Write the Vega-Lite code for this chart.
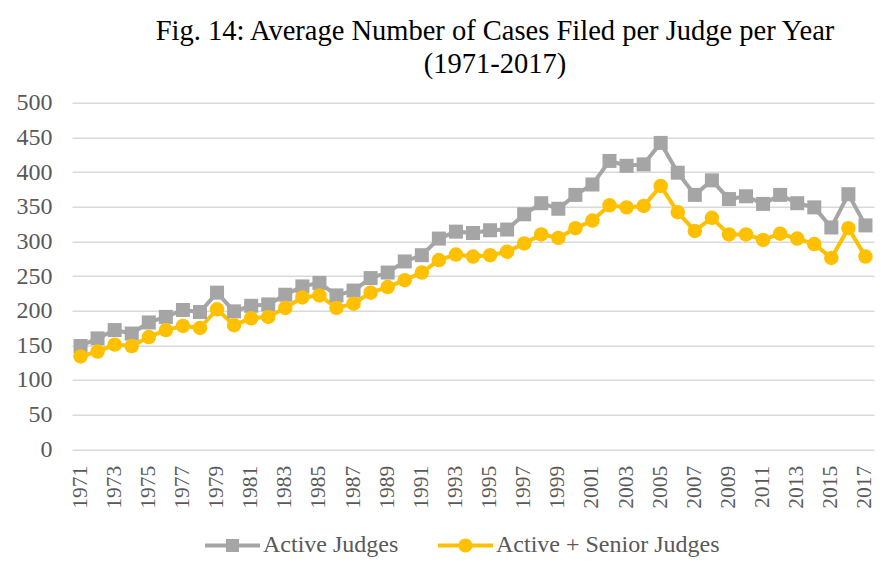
{
  "$schema": "https://vega.github.io/schema/vega-lite/v6.json",
  "autosize": {"type": "none"},
  "width": 802,
  "height": 346.6,
  "padding": {"left": 72, "top": 102.7, "right": 22, "bottom": 130.7},
  "background": "white",
  "config": {
    "view": {"stroke": null},
    "font": "Liberation Serif",
    "legend": {"labelFont": "Liberation Serif", "labelFontSize": 24, "labelColor": "#595959", "labelLimit": 0}
  },
  "title": {
    "text": ["Fig. 14: Average Number of Cases Filed per Judge per Year", "(1971-2017)"],
    "anchor": "middle",
    "frame": "group",
    "dx": 22,
    "font": "Liberation Serif",
    "fontSize": 28.5,
    "fontWeight": "normal",
    "color": "#000000",
    "lineHeight": 33,
    "offset": 12
  },
  "data": {
    "values": [
      {"year": 1971, "series": "Active Judges", "value": 149},
      {"year": 1972, "series": "Active Judges", "value": 160},
      {"year": 1973, "series": "Active Judges", "value": 172},
      {"year": 1974, "series": "Active Judges", "value": 167},
      {"year": 1975, "series": "Active Judges", "value": 183},
      {"year": 1976, "series": "Active Judges", "value": 191},
      {"year": 1977, "series": "Active Judges", "value": 201},
      {"year": 1978, "series": "Active Judges", "value": 198},
      {"year": 1979, "series": "Active Judges", "value": 226},
      {"year": 1980, "series": "Active Judges", "value": 199},
      {"year": 1981, "series": "Active Judges", "value": 207},
      {"year": 1982, "series": "Active Judges", "value": 209},
      {"year": 1983, "series": "Active Judges", "value": 223},
      {"year": 1984, "series": "Active Judges", "value": 235},
      {"year": 1985, "series": "Active Judges", "value": 240},
      {"year": 1986, "series": "Active Judges", "value": 222},
      {"year": 1987, "series": "Active Judges", "value": 229},
      {"year": 1988, "series": "Active Judges", "value": 247},
      {"year": 1989, "series": "Active Judges", "value": 255},
      {"year": 1990, "series": "Active Judges", "value": 271},
      {"year": 1991, "series": "Active Judges", "value": 280},
      {"year": 1992, "series": "Active Judges", "value": 304},
      {"year": 1993, "series": "Active Judges", "value": 314},
      {"year": 1994, "series": "Active Judges", "value": 312},
      {"year": 1995, "series": "Active Judges", "value": 316},
      {"year": 1996, "series": "Active Judges", "value": 317},
      {"year": 1997, "series": "Active Judges", "value": 339},
      {"year": 1998, "series": "Active Judges", "value": 355},
      {"year": 1999, "series": "Active Judges", "value": 347},
      {"year": 2000, "series": "Active Judges", "value": 367},
      {"year": 2001, "series": "Active Judges", "value": 382},
      {"year": 2002, "series": "Active Judges", "value": 416},
      {"year": 2003, "series": "Active Judges", "value": 409},
      {"year": 2004, "series": "Active Judges", "value": 411},
      {"year": 2005, "series": "Active Judges", "value": 442},
      {"year": 2006, "series": "Active Judges", "value": 399},
      {"year": 2007, "series": "Active Judges", "value": 367},
      {"year": 2008, "series": "Active Judges", "value": 388},
      {"year": 2009, "series": "Active Judges", "value": 361},
      {"year": 2010, "series": "Active Judges", "value": 365},
      {"year": 2011, "series": "Active Judges", "value": 354},
      {"year": 2012, "series": "Active Judges", "value": 367},
      {"year": 2013, "series": "Active Judges", "value": 355},
      {"year": 2014, "series": "Active Judges", "value": 349},
      {"year": 2015, "series": "Active Judges", "value": 320},
      {"year": 2016, "series": "Active Judges", "value": 368},
      {"year": 2017, "series": "Active Judges", "value": 323},
      {"year": 1971, "series": "Active + Senior Judges", "value": 134},
      {"year": 1972, "series": "Active + Senior Judges", "value": 141},
      {"year": 1973, "series": "Active + Senior Judges", "value": 151},
      {"year": 1974, "series": "Active + Senior Judges", "value": 149},
      {"year": 1975, "series": "Active + Senior Judges", "value": 162},
      {"year": 1976, "series": "Active + Senior Judges", "value": 172},
      {"year": 1977, "series": "Active + Senior Judges", "value": 178},
      {"year": 1978, "series": "Active + Senior Judges", "value": 175},
      {"year": 1979, "series": "Active + Senior Judges", "value": 202},
      {"year": 1980, "series": "Active + Senior Judges", "value": 179},
      {"year": 1981, "series": "Active + Senior Judges", "value": 189},
      {"year": 1982, "series": "Active + Senior Judges", "value": 191},
      {"year": 1983, "series": "Active + Senior Judges", "value": 204},
      {"year": 1984, "series": "Active + Senior Judges", "value": 219},
      {"year": 1985, "series": "Active + Senior Judges", "value": 222},
      {"year": 1986, "series": "Active + Senior Judges", "value": 204},
      {"year": 1987, "series": "Active + Senior Judges", "value": 210},
      {"year": 1988, "series": "Active + Senior Judges", "value": 226},
      {"year": 1989, "series": "Active + Senior Judges", "value": 234},
      {"year": 1990, "series": "Active + Senior Judges", "value": 244},
      {"year": 1991, "series": "Active + Senior Judges", "value": 255},
      {"year": 1992, "series": "Active + Senior Judges", "value": 273},
      {"year": 1993, "series": "Active + Senior Judges", "value": 281},
      {"year": 1994, "series": "Active + Senior Judges", "value": 278},
      {"year": 1995, "series": "Active + Senior Judges", "value": 280},
      {"year": 1996, "series": "Active + Senior Judges", "value": 285},
      {"year": 1997, "series": "Active + Senior Judges", "value": 297},
      {"year": 1998, "series": "Active + Senior Judges", "value": 310},
      {"year": 1999, "series": "Active + Senior Judges", "value": 305},
      {"year": 2000, "series": "Active + Senior Judges", "value": 319},
      {"year": 2001, "series": "Active + Senior Judges", "value": 330},
      {"year": 2002, "series": "Active + Senior Judges", "value": 352},
      {"year": 2003, "series": "Active + Senior Judges", "value": 349},
      {"year": 2004, "series": "Active + Senior Judges", "value": 351},
      {"year": 2005, "series": "Active + Senior Judges", "value": 380},
      {"year": 2006, "series": "Active + Senior Judges", "value": 342},
      {"year": 2007, "series": "Active + Senior Judges", "value": 315},
      {"year": 2008, "series": "Active + Senior Judges", "value": 334},
      {"year": 2009, "series": "Active + Senior Judges", "value": 310},
      {"year": 2010, "series": "Active + Senior Judges", "value": 310},
      {"year": 2011, "series": "Active + Senior Judges", "value": 302},
      {"year": 2012, "series": "Active + Senior Judges", "value": 311},
      {"year": 2013, "series": "Active + Senior Judges", "value": 304},
      {"year": 2014, "series": "Active + Senior Judges", "value": 296},
      {"year": 2015, "series": "Active + Senior Judges", "value": 276},
      {"year": 2016, "series": "Active + Senior Judges", "value": 319},
      {"year": 2017, "series": "Active + Senior Judges", "value": 278}
    ]
  },
  "encoding": {
    "x": {
      "field": "year",
      "type": "ordinal",
      "scale": {"type": "band", "paddingInner": 0, "paddingOuter": 0},
      "axis": {
        "title": null,
        "labelAngle": -90,
        "labelExpr": "datum.value % 2 == 1 ? datum.label : ''",
        "labelFont": "Liberation Serif",
        "labelFontSize": 21.5,
        "labelColor": "#595959",
        "labelPadding": 16,
        "ticks": false,
        "domain": false,
        "grid": false
      }
    },
    "y": {
      "field": "value",
      "type": "quantitative",
      "scale": {"domain": [0, 500], "nice": false},
      "axis": {
        "title": null,
        "values": [0, 50, 100, 150, 200, 250, 300, 350, 400, 450, 500],
        "labelFont": "Liberation Serif",
        "labelFontSize": 24,
        "labelColor": "#595959",
        "labelPadding": 20,
        "ticks": false,
        "domain": false,
        "grid": true,
        "gridColor": "#D9D9D9",
        "gridWidth": 1.5
      }
    },
    "color": {
      "field": "series",
      "type": "nominal",
      "scale": {
        "domain": ["Active Judges", "Active + Senior Judges"],
        "range": ["#A5A5A5", "#FFC000"]
      },
      "legend": {
        "title": null,
        "orient": "none",
        "direction": "horizontal",
        "legendX": 133,
        "legendY": 415,
        "padding": 0,
        "symbolSize": 3025,
        "symbolStrokeWidth": 0,
        "symbolOpacity": 1,
        "labelFont": "Liberation Serif",
        "labelFontSize": 24,
        "labelColor": "#595959",
        "labelLimit": 0,
        "labelOffset": 3,
        "columnPadding": 39,
        "encode": {
          "symbols": {
            "update": {
              "shape": {"signal": "datum.value === 'Active Judges' ? 'M-1,-0.073H1V0.073H-1Z M-0.236,-0.236H0.236V0.236H-0.236Z' : 'M-1,-0.073H1V0.073H-1Z M-0.255,0A0.255,0.255 0 1,1 0.255,0A0.255,0.255 0 1,1 -0.255,0Z'"},
              "size": {"value": 3025},
              "strokeWidth": {"value": 0},
              "fill": {"signal": "datum.value === 'Active Judges' ? '#A5A5A5' : '#FFC000'"},
              "opacity": {"value": 1}
            }
          }
        }
      }
    }
  },
  "layer": [
    {
      "mark": {"type": "line", "strokeWidth": 4}
    },
    {
      "transform": [{"filter": "datum.series === 'Active Judges'"}],
      "mark": {"type": "point", "filled": true, "opacity": 1, "strokeWidth": 0, "shape": "square", "size": 196}
    },
    {
      "transform": [{"filter": "datum.series === 'Active + Senior Judges'"}],
      "mark": {"type": "point", "filled": true, "opacity": 1, "strokeWidth": 0, "shape": "circle", "size": 210}
    }
  ]
}
